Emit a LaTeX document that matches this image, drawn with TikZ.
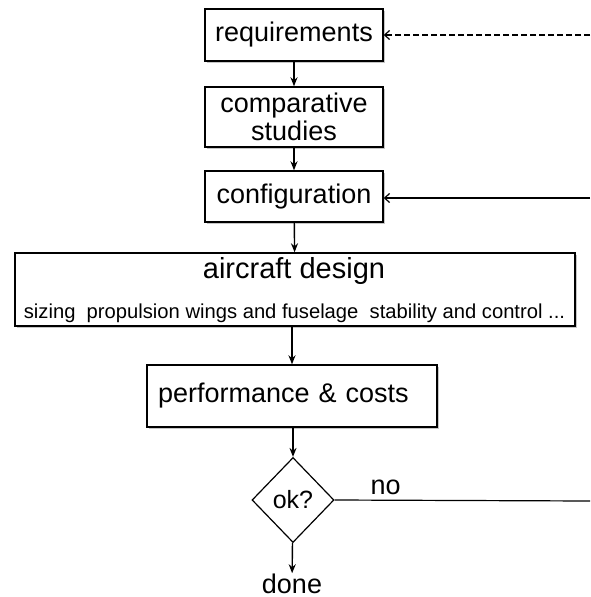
\documentclass[tikz,border=0pt]{standalone}
\usepackage{fontspec}
\setmainfont{Liberation Sans}
\usetikzlibrary{shapes.geometric,arrows.meta,shadows}
\begin{document}
\begin{tikzpicture}[x=1pt,y=-1pt,
  box/.style={draw, line width=1.4pt, fill=white, inner sep=0pt,
    drop shadow={shadow xshift=1.5pt, shadow yshift=-1.5pt, opacity=0.45}},
  lbl/.style={font=\fontsize{27}{30}\selectfont, inner sep=0pt},
  flow/.style={line width=1.4pt, -{Stealth[length=9pt,width=7pt]}},
  back/.style={line width=1.2pt, -{Straight Barb[length=5pt,width=9pt]}},
]
\useasboundingbox (0,0) rectangle (590,597);
\node[box, minimum width=178pt, minimum height=52pt, lbl] (req) at (294,35) {requirements};
\node[box, minimum width=178pt, minimum height=60pt, lbl, align=center,
      font=\fontsize{27}{28}\selectfont] (comp) at (294,117) {comparative\\studies};
\node[box, minimum width=178pt, minimum height=51pt, lbl] (conf) at (294,196.5) {configuration};
\node[box, minimum width=560pt, minimum height=73pt] (ac) at (295,289.5) {};
\node[inner sep=0pt, font=\fontsize{29}{32}\selectfont] (actitle) at (294,271) {aircraft design};
\node[inner sep=0pt, font=\fontsize{20.2}{22}\selectfont] (acsub) at (294.5,313)
  {sizing\ \ propulsion wings and fuselage\ \ stability and control ...};
\node[box, minimum height=62pt, lbl, text width=268pt, inner xsep=11pt, align=left] (perf) at (292,396) {performance \& costs};
\node[diamond, draw, line width=1.2pt, fill=white, inner sep=0pt,
      minimum width=82pt, minimum height=85pt,
      font=\fontsize{25}{28}\selectfont] (ok) at (293,500) {ok?};
\node[lbl, anchor=base] (done) at (292,593) {done};
\coordinate (r1) at (590,35);
\coordinate (r2) at (590,198);
\coordinate (r3) at (590,501);
\draw[flow] (req) -- (comp);
\draw[flow] (comp) -- (conf);
\draw[flow] (conf) -- (ac);
\draw[flow] (ac.south -| perf) -- (perf);
\draw[flow] (perf.south -| ok) -- (ok);
\draw[flow] (ok) -- (done);
\draw[back, dash pattern=on 6pt off 3pt] (r1) -- (req.east);
\draw[back] (r2) -- (conf.east |- r2);
\draw[line width=1.2pt] (ok.east) -- (r3) node[lbl, pos=0.2, above=5pt] (no) {no};
\end{tikzpicture}
\end{document}
